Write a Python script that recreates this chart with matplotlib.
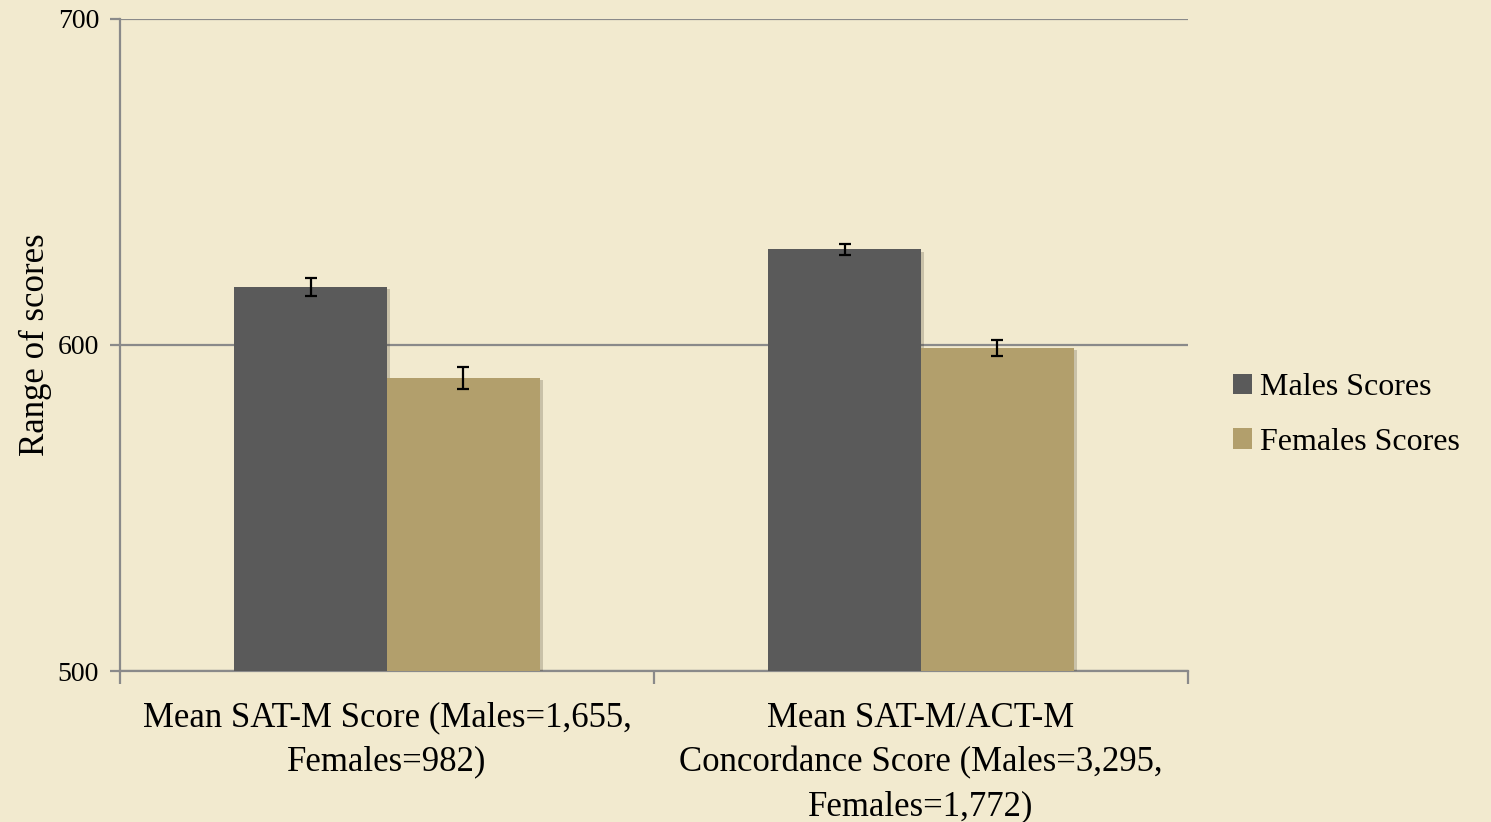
import matplotlib
matplotlib.use("Agg")
import matplotlib.pyplot as plt
import matplotlib.patheffects as pe
import numpy as np

categories = ["Mean SAT-M Score (Males=1,655,\nFemales=982)",
              "Mean SAT-M/ACT-M\nConcordance Score (Males=3,295,\nFemales=1,772)"]
series_names = ["Males Scores", "Females Scores"]
males = [617.7, 629.3]
females = [589.9, 599.1]
males_err = [2.7, 1.8]
females_err = [3.4, 2.5]
yticks = [500, 600, 700]

bg = "#f2eacf"
plt.rcParams['font.family'] = ['Liberation Serif', 'DejaVu Serif']

fig = plt.figure(figsize=(14.91, 8.22), dpi=100, facecolor=bg)
ax = fig.add_axes([120/1491, 1-671/822, (1188-120)/1491, (671-19)/822])
ax.set_facecolor(bg)

x = np.arange(len(categories))
w = 0.2865
b1 = ax.bar(x - w/2, males, w, bottom=0, color="#5a5a5a", label=series_names[0], zorder=3)
b2 = ax.bar(x + w/2, females, w, bottom=0, color="#b29f6c", label=series_names[1], zorder=3)
ax.errorbar(x - w/2, males, yerr=males_err, fmt='none', ecolor='black', elinewidth=1.6, capsize=4.5, capthick=1.6, zorder=4)
ax.errorbar(x + w/2, females, yerr=females_err, fmt='none', ecolor='black', elinewidth=1.6, capsize=4.5, capthick=1.6, zorder=4)

ax.set_ylim(500, 700)
ax.set_xlim(-0.5, len(categories) - 0.5)
ax.set_yticks(yticks)
ax.set_yticklabels([str(t) for t in yticks], fontsize=20)
ax.yaxis.grid(True, color="#8a8a8a", linewidth=1.6, zorder=1)
ax.set_axisbelow(True)

ax.set_xticks(x)
ax.set_xticklabels(categories, fontsize=25, linespacing=1.45)
ax.set_xticks(np.arange(len(categories) + 1) - 0.5, minor=True)
ax.tick_params(axis='x', which='major', length=0, pad=22)
ax.tick_params(axis='x', which='minor', length=9, width=1.6, color="#8a8a8a")
ax.tick_params(axis='y', length=7, width=1.6, color="#8a8a8a", pad=8)

for s in ['top', 'right']:
    ax.spines[s].set_visible(False)
for s in ['left', 'bottom']:
    ax.spines[s].set_color("#8a8a8a")
    ax.spines[s].set_linewidth(1.6)

ax.set_ylabel("Range of scores", fontsize=25, labelpad=4)

leg = fig.legend(handles=[b1, b2], labels=series_names, loc='center left',
                 bbox_to_anchor=(1233/1491, 1-415/822), frameon=False,
                 borderpad=0, borderaxespad=0,
                 fontsize=23, handlelength=0.6, handleheight=0.6, handletextpad=0.25,
                 labelspacing=0.8)

# soft shadow on bars only
shadow = [pe.SimplePatchShadow(offset=(2.5, -1.5), alpha=0.22, shadow_rgbFace="#3a3020"), pe.Normal()]
for b in list(b1) + list(b2):
    b.set_path_effects(shadow)

fig.savefig("out.png", dpi=100, facecolor=bg)
